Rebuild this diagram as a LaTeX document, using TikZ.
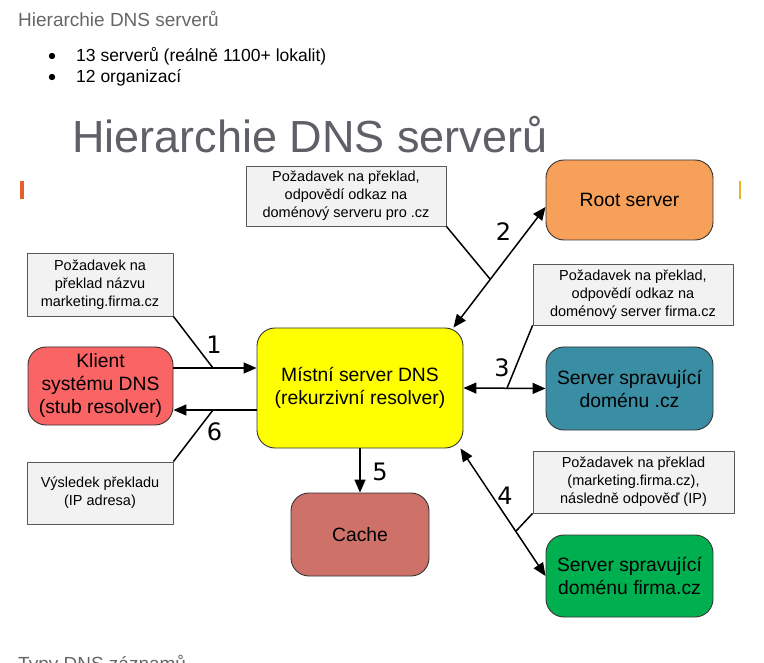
\documentclass[tikz,border=0pt]{standalone}
\usepackage{fontspec}
\setmainfont{Liberation Sans}
\newfontfamily\numfont{DejaVu Sans}
\usetikzlibrary{arrows.meta}
\definecolor{rootcol}{HTML}{F6A05A}
\definecolor{klientcol}{HTML}{FA6464}
\definecolor{mistnicol}{HTML}{FFFF00}
\definecolor{czcol}{HTML}{3A8EA4}
\definecolor{cachecol}{HTML}{CD7169}
\definecolor{firmacol}{HTML}{00B050}
\definecolor{notecol}{HTML}{F2F2F2}
\definecolor{titlecol}{HTML}{5F5F67}
\begin{document}
\begin{tikzpicture}[x=1pt, y=-1pt, line join=round, >={Triangle[length=13pt,width=11pt]},
	srv/.style={draw=black!80, line width=0.9pt, rounded corners=18pt, align=center, inner sep=0pt,
		font=\fontsize{19.3}{23}\selectfont},
	note/.style={draw=black!65, line width=0.8pt, fill=notecol, align=center, inner sep=0pt,
		font=\fontsize{14.5}{18}\selectfont},
	num/.style={font=\numfont\fontsize{24}{26}\selectfont, inner sep=0pt},
	link/.style={line width=1.5pt}]
	\useasboundingbox (0,0) rectangle (764,663);
	% slide heading
	\node[anchor=base west, inner sep=0pt, text=black!60, font=\fontsize{19}{21}\selectfont] (head) at (18,27) {Hierarchie DNS serverů};
	\foreach \y/\txt in {62/13 serverů (reálně 1100+ lokalit), 83/12 organizací}{
		\fill (52,\y-6) circle (3.2pt);
		\node[anchor=base west, inner sep=0pt, font=\fontsize{17.5}{20}\selectfont] at (76,\y) {\txt};
	}
	\node[anchor=base west, inner sep=0pt, text=titlecol, font=\fontsize{45}{50}\selectfont] (title) at (72,153) {Hierarchie DNS serverů};
	\fill[color={rgb,255:red,229;green,96;blue,43}] (20,181) rectangle (24,199);
	\fill[color={rgb,255:red,232;green,181;blue,31}] (739,181) rectangle (741,199);
	\node[anchor=base west, inner sep=0pt, text=black!60, font=\fontsize{19}{21}\selectfont] (next) at (18,670) {Typy DNS záznamů};
	% servers
	\node[srv, fill=rootcol, minimum width=167pt, minimum height=80pt] (root) at (629.5,200) {Root server};
	\node[srv, fill=klientcol, minimum width=145pt, minimum height=78pt] (klient) at (100.5,386) {Klient\\systému DNS\\(stub resolver)};
	\node[srv, fill=mistnicol, minimum width=206pt, minimum height=120pt] (mistni) at (360,388) {Místní server DNS\\(rekurzivní resolver)};
	\node[srv, fill=czcol, minimum width=167pt, minimum height=83pt] (cz) at (629.5,388.5) {Server spravující\\doménu .cz};
	\node[srv, fill=cachecol, minimum width=138pt, minimum height=83pt] (cache) at (360,534.5) {Cache};
	\node[srv, fill=firmacol, minimum width=167pt, minimum height=82pt] (firma) at (629.5,576) {Server spravující\\doménu firma.cz};
	% notes
	\node[note, minimum width=146pt, minimum height=63pt] (n1) at (100,284.5) {Požadavek na\\překlad názvu\\marketing.firma.cz};
	\node[note, minimum width=200pt, minimum height=60pt] (n2) at (346,196) {Požadavek na překlad,\\odpovědí odkaz na\\doménový serveru pro .cz};
	\node[note, minimum width=200pt, minimum height=61pt] (n3) at (633,294.5) {Požadavek na překlad,\\odpovědí odkaz na\\doménový server firma.cz};
	\node[note, minimum width=201pt, minimum height=62pt] (n4) at (633.5,482) {Požadavek na překlad\\(marketing.firma.cz),\\následně odpověď (IP)};
	\node[note, minimum width=146pt, minimum height=62pt] (n6) at (100,493) {Výsledek překladu\\(IP adresa)};
	% arrows
	\draw[link, ->] ([yshift=18pt]klient.east) -- ([yshift=18pt]klient.east -| mistni.west) coordinate[pos=0.476] (m1);
	\draw[link, <->] ([xshift=-10pt]mistni.north east) -- ([yshift=-7pt]root.west) coordinate[pos=0.4] (m2);
	\draw[link, <->] (mistni.east) -- (cz.west) coordinate[pos=0.53] (m3);
	\draw[link, <->] ([xshift=-3pt]mistni.south east) -- (firma.west) coordinate[pos=0.65] (m4);
	\draw[link, ->] (mistni.south) -- (cache.north);
	\draw[link, ->] ([yshift=-24pt]klient.east -| mistni.west) -- ([yshift=-24pt]klient.east) coordinate[pos=0.524] (m6);
	% leaders
	\draw[link] (n1.south east) -- (m1);
	\draw[link] (n2.south east) -- (m2);
	\draw[link] (n3.south west) -- (m3);
	\draw[link] (n4.south west) -- (m4);
	\draw[link] (n6.north east) -- (m6);
	% step numbers
	\node[num] (s1) at (214,345) {1};
	\node[num] (s2) at (503.5,232) {2};
	\node[num] (s3) at (502,368) {3};
	\node[num] (s4) at (505,496) {4};
	\node[num] (s5) at (380,472) {5};
	\node[num] (s6) at (214.5,432) {6};
\end{tikzpicture}
\end{document}
